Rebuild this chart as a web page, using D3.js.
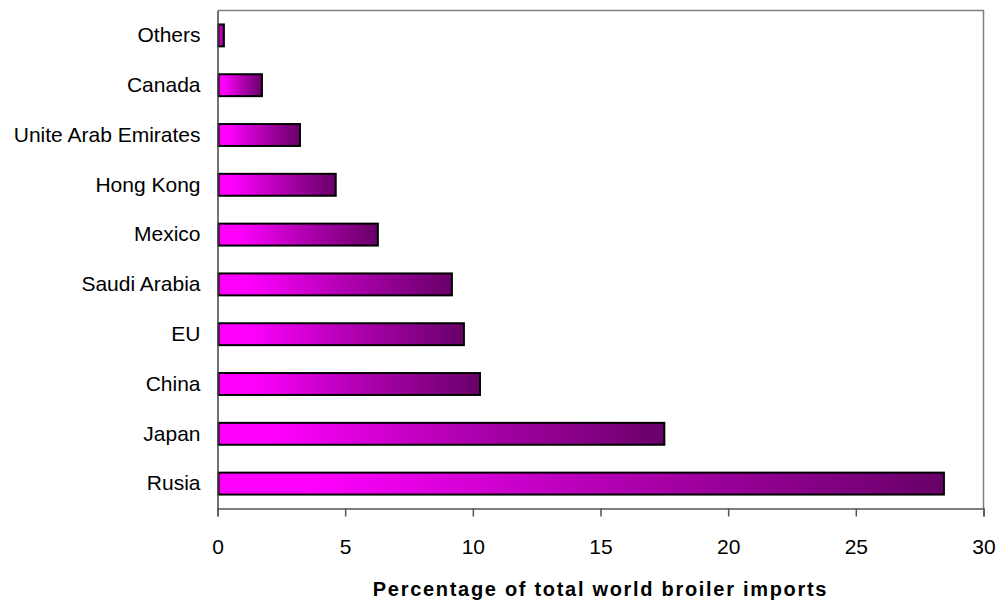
<!DOCTYPE html>
<html>
<head>
<meta charset="utf-8">
<script src="https://cdn.jsdelivr.net/npm/d3@7/dist/d3.min.js"></script>
<style>
  html, body { margin: 0; padding: 0; background: #fff; }
  svg { display: block; font-family: "Liberation Sans", Arial, sans-serif; }
</style>
</head>
<body>
<svg id="chart" width="1003" height="604"></svg>
<script>
// Importing countries, listed bottom to top
const countries = ["Rusia", "Japan", "China", "EU", "Saudi Arabia", "Mexico",
                   "Hong Kong", "Unite Arab Emirates", "Canada", "Others"];
// Share of total world broiler imports (%)
const shares = [28.45, 17.5, 10.28, 9.65, 9.18, 6.28, 4.63, 3.23, 1.74, 0.25];
const xTicks = [0, 5, 10, 15, 20, 25, 30];
const xTitle = "Percentage of total world broiler imports";

const svg = d3.select("#chart");
const plot = { left: 217.5, right: 983.5, top: 10.5, bottom: 508.5 };

const x = d3.scaleLinear().domain([0, 30]).range([plot.left, plot.right]);
const y = d3.scaleBand()
  .domain(countries.slice().reverse())
  .range([plot.top, plot.bottom])
  .paddingInner(0.56)
  .paddingOuter(0.28);

// Horizontal fill: bright magenta fading to deep purple
const defs = svg.append("defs");
const grad = defs.append("linearGradient")
  .attr("id", "barFill")
  .attr("x1", "0%").attr("x2", "100%").attr("y1", "0%").attr("y2", "0%");
grad.append("stop").attr("offset", "0%").attr("stop-color", "#ff00ff");
grad.append("stop").attr("offset", "12%").attr("stop-color", "#ff00ff");
grad.append("stop").attr("offset", "55%").attr("stop-color", "#b000b0");
grad.append("stop").attr("offset", "100%").attr("stop-color", "#680068");

// Frame on top and right
svg.append("path")
  .attr("d", `M${plot.left},${plot.top}H${plot.right}V${plot.bottom}`)
  .attr("fill", "none")
  .attr("stroke", "#808080")
  .attr("stroke-width", 1.5);

// Bars
const data = countries.map((c, i) => ({ c, v: shares[i] }));
svg.append("g").selectAll("rect")
  .data(data)
  .join("rect")
  .attr("x", x(0) + 1)
  .attr("y", d => y(d.c))
  .attr("width", d => x(d.v) - x(0) - 1)
  .attr("height", y.bandwidth())
  .attr("fill", "url(#barFill)")
  .attr("stroke", "#000")
  .attr("stroke-width", 2);

// Bottom axis
const xAxis = svg.append("g")
  .attr("transform", `translate(0,${plot.bottom})`)
  .call(d3.axisBottom(x).tickValues(xTicks).tickSize(8).tickPadding(23).tickFormat(d3.format("d")));
xAxis.select(".domain").attr("stroke", "#555").attr("stroke-width", 1.5);
xAxis.selectAll(".tick line").attr("stroke", "#555").attr("stroke-width", 1.5);
xAxis.selectAll(".tick text")
  .attr("fill", "#000")
  .style("font-size", "21px");

// Left axis
const yAxis = svg.append("g")
  .attr("transform", `translate(${plot.left},0)`)
  .call(d3.axisLeft(y).tickSize(0).tickPadding(17));
yAxis.select(".domain").attr("stroke", "#444").attr("stroke-width", 1.5);
yAxis.selectAll(".tick text")
  .attr("fill", "#000")
  .style("font-size", "21px");

// Axis title
svg.append("text")
  .attr("x", (plot.left + plot.right) / 2)
  .attr("y", 596)
  .attr("text-anchor", "middle")
  .style("font-size", "20px")
  .style("font-weight", "bold")
  .style("letter-spacing", "1.7px")
  .text(xTitle);
</script>
</body>
</html>
